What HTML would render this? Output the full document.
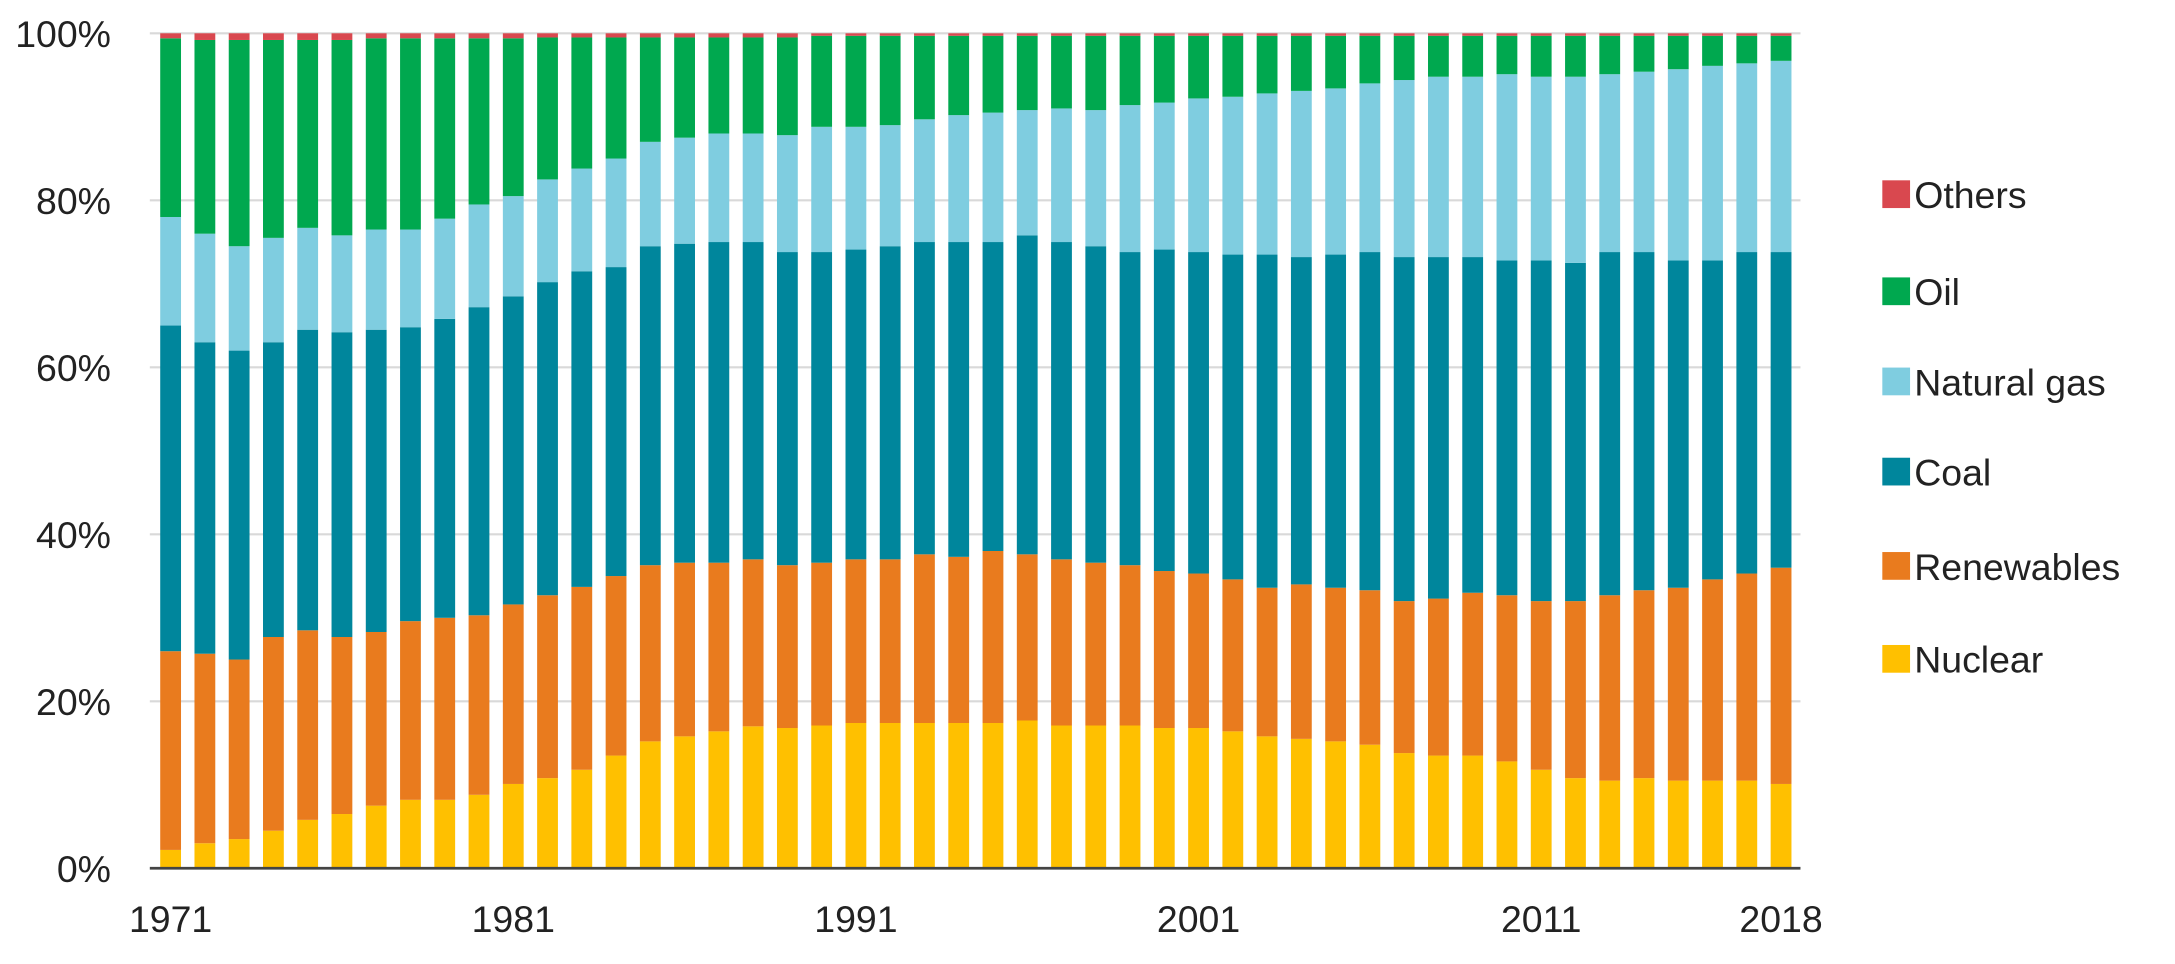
<!DOCTYPE html>
<html><head><meta charset="utf-8"><style>
body{margin:0;background:#fff;overflow:hidden;}
svg{display:block;}
svg text{font-family:"Liberation Sans",sans-serif;fill:#222;}
</style></head><body>
<svg id="chart" width="2175" height="964" viewBox="0 0 1568 695" preserveAspectRatio="none" xmlns="http://www.w3.org/2000/svg">
<g id="grid"></g>
<g id="bars"></g>
<g id="axes"></g>
<g id="legend"></g>
</svg>
<script>
const years=[];for(let y=1971;y<=2018;y++)years.push(y);
const xTickLabels=["1971","1981","1991","2001","2011","2018"];
const yTicks=[0,20,40,60,80,100];
const seriesNames=["Nuclear","Renewables","Coal","Natural gas","Oil","Others"];
// cumulative tops (%) per year
const nuclearTop=[2.2,3,3.5,4.5,5.8,6.5,7.5,8.2,8.2,8.8,10.1,10.8,11.8,13.5,15.2,15.8,16.4,17,16.8,17.1,17.4,17.4,17.4,17.4,17.4,17.7,17.1,17.1,17.1,16.8,16.8,16.4,15.8,15.5,15.2,14.8,13.8,13.5,13.5,12.8,11.8,10.8,10.5,10.8,10.5,10.5,10.5,10.1];
const renewablesTop=[26,25.7,25,27.7,28.5,27.7,28.3,29.6,30,30.3,31.6,32.7,33.7,35,36.3,36.6,36.6,37,36.3,36.6,37,37,37.6,37.3,38,37.6,37,36.6,36.3,35.6,35.3,34.6,33.6,34,33.6,33.3,32,32.3,33,32.7,32,32,32.7,33.3,33.6,34.6,35.3,36];
const coalTop=[65,63,62,63,64.5,64.2,64.5,64.8,65.8,67.2,68.5,70.2,71.5,72,74.5,74.8,75,75,73.8,73.8,74.1,74.5,75,75,75,75.8,75,74.5,73.8,74.1,73.8,73.5,73.5,73.2,73.5,73.8,73.2,73.2,73.2,72.8,72.8,72.5,73.8,73.8,72.8,72.8,73.8,73.8];
const gasTop=[78,76,74.5,75.5,76.7,75.8,76.5,76.5,77.8,79.5,80.5,82.5,83.8,85,87,87.5,88,88,87.8,88.8,88.8,89,89.7,90.2,90.5,90.8,91,90.8,91.4,91.7,92.2,92.4,92.8,93.1,93.4,94,94.4,94.8,94.8,95.1,94.8,94.8,95.1,95.4,95.7,96.1,96.4,96.7];
const oilTop=[99.4,99.2,99.2,99.2,99.2,99.2,99.4,99.4,99.4,99.4,99.4,99.5,99.5,99.5,99.5,99.5,99.5,99.5,99.5,99.7,99.7,99.7,99.7,99.7,99.7,99.7,99.7,99.7,99.7,99.7,99.7,99.7,99.7,99.7,99.7,99.7,99.7,99.7,99.7,99.7,99.7,99.7,99.7,99.7,99.7,99.7,99.7,99.7];
const othersTop=years.map(()=>100);
const tops=[nuclearTop,renewablesTop,coalTop,gasTop,oilTop,othersTop];
const colors=["#FFC000","#E97B1E","#00869C","#7FCDE0","#00A84F","#D9484F"];
const NS="http://www.w3.org/2000/svg";
const X0=123,X1=1284,Y0=626,Y1=24,BW=15,LEFT=108,RIGHT=1298;
const xs=i=>X0+(X1-X0)*i/(years.length-1);
const ys=v=>Y0-(Y0-Y1)*v/100;
function mk(t,a,p){const e=document.createElementNS(NS,t);for(const k in a)e.setAttribute(k,a[k]);p.appendChild(e);return e;}
const grid=document.getElementById('grid'),bars=document.getElementById('bars'),axes=document.getElementById('axes'),legend=document.getElementById('legend');
yTicks.forEach(v=>{
 if(v>0){const l=mk('line',{x1:LEFT,x2:RIGHT,y1:ys(v),y2:ys(v),stroke:'#d9d9d9','stroke-width':1.5},grid);
 
 }
 const t=mk('text',{x:80,y:ys(v)+10,'text-anchor':'end','font-size':27},axes);t.textContent=v+'%';
 
 
});
years.forEach((yr,i)=>{
 let prev=0;
 tops.forEach((arr,s)=>{
  const top=arr[i];
  const r=mk('rect',{x:xs(i)-BW/2,y:ys(top),width:BW,height:Math.max(0,ys(prev)-ys(top)),fill:colors[s]},bars);
  
  
  prev=top;
 });
});
const ax=mk('line',{x1:LEFT,x2:RIGHT,y1:Y0,y2:Y0,stroke:'#444','stroke-width':2},axes);


xTickLabels.forEach(lb=>{
 const i=years.indexOf(+lb);
 const t=mk('text',{x:xs(i),y:672,'text-anchor':'middle','font-size':27},axes);t.textContent=lb;
 
 
});
const legY=[140,210,275,340,408,475];
for(let k=0;k<6;k++){
 const s=5-k;
 const g=mk('g',{},legend);
 
 
 mk('rect',{x:1357,y:legY[k]-10,width:20,height:20,fill:colors[s]},g);
 const t=mk('text',{x:1380,y:legY[k]+10,'font-size':27},g);t.textContent=seriesNames[s];
}
</script>
</body></html>
